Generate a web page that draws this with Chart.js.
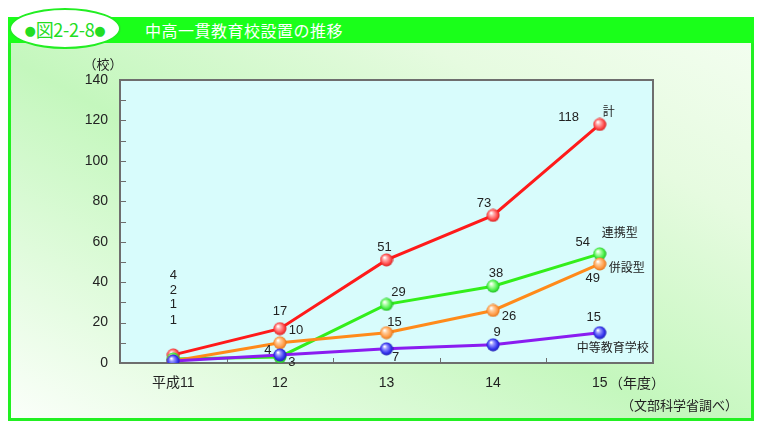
<!DOCTYPE html>
<html lang="ja">
<head>
<meta charset="utf-8">
<script src="https://cdn.jsdelivr.net/npm/chart.js@4"></script>
<style>
  body { margin: 0; width: 758px; height: 426px; background: #fff; position: relative; overflow: hidden; font-family: "Liberation Sans", "Noto Sans CJK JP", sans-serif; }
  #frame { position: absolute; left: 8px; top: 17px; width: 740px; height: 398px; border: 3px solid #22f022;
           background: linear-gradient(to top right, #fbfffa 0%, #c4f7bd 45%, #e6fbe0 75%, #f4fef1 100%); }
  #band { position: absolute; left: 8px; top: 17px; width: 746px; height: 26px; background: #1aff1a; }
  #badge { position: absolute; left: 9px; top: 8px; width: 108px; height: 37px; border: 2px solid #22ee22; border-radius: 50%;
           background: #fff; color: #22dd22; font: 18px "Noto Sans CJK JP", sans-serif; line-height: 39px; text-align: center; letter-spacing: -0.3px; }
  #badge span { font: 13px "DejaVu Sans", sans-serif; vertical-align: 2px; }
  #title { position: absolute; left: 145px; top: 18px; color: #fff; font: 400 16px "Noto Sans CJK JP", sans-serif; line-height: 24px; letter-spacing: 0.5px; }
  canvas { position: absolute; left: 0; top: 0; }
</style>
</head>
<body>
<div id="frame"></div>
<div id="band"></div>
<div id="badge"><span>●</span>図2-2-8<span>●</span></div>
<div id="title">中高一貫教育校設置の推移</div>
<canvas id="chart" width="758" height="426"></canvas>
<script>
// data
const years = ['平成11', '12', '13', '14', '15'];
const totalSchools = [4, 17, 51, 73, 118];      // 計
const renkeiSchools = [2, 3, 29, 38, 54];       // 連携型
const heisetsuSchools = [1, 10, 15, 26, 49];    // 併設型
const chutoSchools = [1, 4, 7, 9, 15];          // 中等教育学校
const seriesNames = ['中等教育学校', '併設型', '連携型', '計'];

// label offsets from each point (px)
const labelOffsets = [
  [[0, -41], [-12, -4], [9, 9], [4, -12], [-6, -15]],
  [[0, -57], [16, -12], [8, -10], [16, 6], [-7, 14]],
  [[0, -69], [12, 5], [12, -12], [3, -13], [-17, -11]],
  [[0, -79], [0, -17], [-2, -12], [-9, -12], [-31, -7]]
];
const nameOffsets = [[13, 15], [27, 3], [20, -21], [9, -13]];

const FONT = '"Liberation Sans", "Noto Sans CJK JP", sans-serif';

// ball shaped point marker
function sphere(light, mid, dark) {
  const c = document.createElement('canvas');
  c.width = 14; c.height = 14;
  const g = c.getContext('2d');
  const grad = g.createRadialGradient(5, 4.5, 0.5, 7, 7, 7);
  grad.addColorStop(0, '#ffffff');
  grad.addColorStop(0.25, light);
  grad.addColorStop(0.7, mid);
  grad.addColorStop(1, dark);
  g.fillStyle = grad;
  g.beginPath();
  g.arc(7, 7, 6.5, 0, Math.PI * 2);
  g.fill();
  return c;
}

const plotBox = {
  id: 'plotBox',
  beforeDatasetsDraw(chart) {
    const { ctx, chartArea: a, scales } = chart;
    ctx.save();
    ctx.fillStyle = '#d8fcfc';
    ctx.fillRect(a.left, a.top, a.right - a.left, a.bottom - a.top);
    ctx.strokeStyle = '#6e6e6e';
    ctx.lineWidth = 1;
    // little ticks inside the box
    for (let v = 10; v < 140; v += 10) {
      const y = Math.round(scales.y.getPixelForValue(v)) + 0.5;
      ctx.beginPath(); ctx.moveTo(a.left, y); ctx.lineTo(a.left + 6, y); ctx.stroke();
    }
    for (let i = 0; i < years.length - 1; i++) {
      const x = Math.round((scales.x.getPixelForValue(i) + scales.x.getPixelForValue(i + 1)) / 2) + 0.5;
      ctx.beginPath(); ctx.moveTo(x, a.bottom); ctx.lineTo(x, a.bottom - 5); ctx.stroke();
    }
    ctx.lineWidth = 2;
    ctx.strokeRect(a.left, a.top, a.right - a.left, a.bottom - a.top);
    ctx.restore();
  },
  afterDatasetsDraw(chart) {
    const { ctx, chartArea: a } = chart;
    ctx.save();
    ctx.fillStyle = '#222';
    ctx.textAlign = 'center';
    ctx.textBaseline = 'middle';
    chart.data.datasets.forEach((ds, di) => {
      const pts = chart.getDatasetMeta(di).data;
      ctx.font = '13px ' + FONT;
      pts.forEach((p, i) => {
        const o = labelOffsets[di][i];
        ctx.fillText(String(ds.data[i]), p.x + o[0], p.y + o[1]);
      });
      const last = pts[pts.length - 1];
      ctx.font = '12px "Noto Sans CJK JP", sans-serif';
      ctx.fillText(seriesNames[di], last.x + nameOffsets[di][0], last.y + nameOffsets[di][1]);
    });
    ctx.font = '13px "Noto Sans CJK JP", sans-serif';
    ctx.fillText('（校）', a.left - 17, a.top - 16);
    ctx.font = '14px "Noto Sans CJK JP", sans-serif';
    ctx.textAlign = 'left';
    ctx.fillText('（年度）', a.right - 44, a.bottom + 20);
    ctx.font = '13px "Noto Sans CJK JP", sans-serif';
    ctx.textAlign = 'right';
    ctx.fillText('（文部科学省調べ）', 738, a.bottom + 42);
    ctx.restore();
  }
};

function line(data, color, ball) {
  return { data, borderColor: color, borderWidth: 3, pointStyle: ball, pointRadius: 7, tension: 0, fill: false };
}

new Chart(document.getElementById('chart'), {
  type: 'line',
  data: {
    labels: years,
    datasets: [
      line(chutoSchools, '#8a1cf0', sphere('#9a9aff', '#3333ee', '#1a1aa0')),
      line(heisetsuSchools, '#ff8a1a', sphere('#ffd0a0', '#ff9a44', '#d86a10')),
      line(renkeiSchools, '#33ee1a', sphere('#b8ffb0', '#44ee44', '#18aa18')),
      line(totalSchools, '#ff1a1a', sphere('#ffb0b0', '#ff4848', '#c81818'))
    ]
  },
  options: {
    responsive: false,
    animation: false,
    layout: { padding: { top: 80, right: 105, left: 0, bottom: 0 } },
    plugins: { legend: { display: false }, tooltip: { enabled: false } },
    scales: {
      x: {
        offset: true,
        grid: { display: false, drawTicks: false },
        border: { display: false },
        ticks: { color: '#222', font: { size: 14, family: FONT }, padding: 12, maxRotation: 0 },
        afterFit: s => { s.height = 63; }
      },
      y: {
        min: 0, max: 140,
        grid: { display: false, drawTicks: false },
        border: { display: false },
        ticks: { stepSize: 20, color: '#222', font: { size: 14, family: FONT }, padding: 12 },
        afterFit: s => { s.width = 120; }
      }
    }
  },
  plugins: [plotBox]
});
</script>
</body>
</html>
